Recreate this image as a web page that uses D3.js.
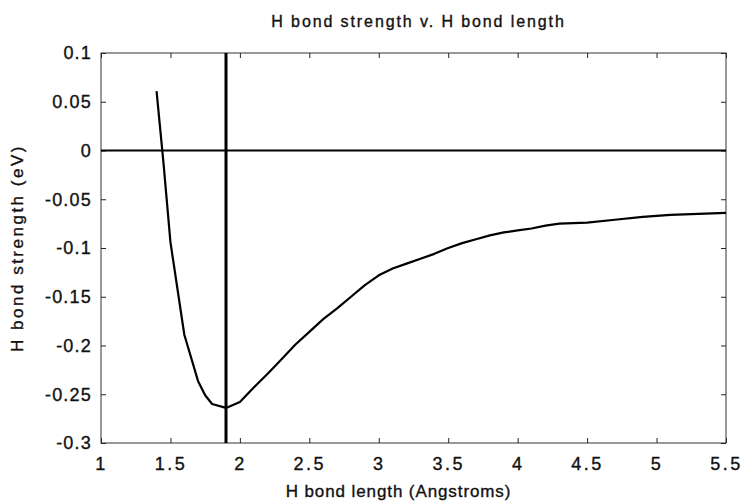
<!DOCTYPE html>
<html>
<head>
<meta charset="utf-8">
<script src="https://cdn.jsdelivr.net/npm/d3@7"></script>
<style>
  html, body { margin: 0; padding: 0; background: #fff; }
  svg { display: block; }
  text { font-family: "Liberation Sans", Arial, Helvetica, sans-serif; fill: #111; stroke: #111; stroke-width: 0.35px; }
</style>
</head>
<body>
<svg id="chart" width="743" height="503"></svg>
<script>
// H-bond length (Angstroms) and computed H-bond strength (eV)
const bondLength = [1.4, 1.45, 1.5, 1.6, 1.7, 1.75, 1.8, 1.9, 2.0, 2.1, 2.2, 2.3, 2.4, 2.5,
  2.6, 2.7, 2.8, 2.9, 3.0, 3.1, 3.2, 3.3, 3.4, 3.5, 3.6, 3.7, 3.8, 3.9, 4.0, 4.1, 4.2,
  4.3, 4.5, 4.7, 4.9, 5.1, 5.3, 5.5];
const bondStrength = [0.061, -0.013, -0.094, -0.189, -0.237, -0.251, -0.260, -0.264, -0.258,
  -0.243, -0.229, -0.214, -0.199, -0.186, -0.173, -0.162, -0.150, -0.138, -0.128, -0.121,
  -0.116, -0.111, -0.106, -0.100, -0.095, -0.091, -0.087, -0.084, -0.082, -0.080, -0.077,
  -0.075, -0.074, -0.071, -0.068, -0.066, -0.065, -0.064];

// reference lines: zero energy and equilibrium bond length
const zeroLevel = [0];
const equilibriumLength = [1.9];

const xTicks = [1, 1.5, 2, 2.5, 3, 3.5, 4, 4.5, 5, 5.5];
const yTicks = [0.1, 0.05, 0, -0.05, -0.1, -0.15, -0.2, -0.25, -0.3];
const xDomain = [1, 5.5];
const yDomain = [-0.3, 0.1];

const titleText = "H bond strength v. H bond length";
const xLabelText = "H bond length (Angstroms)";
const yLabelText = "H bond strength (eV)";

const margin = { left: 101, right: 17, top: 53, bottom: 60 };
const W = 743, H = 503;
const svg = d3.select("#chart");

const x = d3.scaleLinear().domain(xDomain).range([margin.left, W - margin.right]);
const y = d3.scaleLinear().domain(yDomain).range([H - margin.bottom, margin.top]);

const fmt = d => String(d);
const tickLen = 5;

// inward ticks on all four sides
const axes = [
  { ax: d3.axisBottom(x).tickValues(xTicks).tickSize(-tickLen).tickFormat(fmt), t: `translate(0,${y.range()[0]})` },
  { ax: d3.axisTop(x).tickValues(xTicks).tickSize(-tickLen).tickFormat(""), t: `translate(0,${y.range()[1]})` },
  { ax: d3.axisLeft(y).tickValues(yTicks).tickSize(-tickLen).tickFormat(fmt), t: `translate(${x.range()[0]},0)` },
  { ax: d3.axisRight(y).tickValues(yTicks).tickSize(-tickLen).tickFormat(""), t: `translate(${x.range()[1]},0)` }
];
axes.forEach((a, i) => {
  const g = svg.append("g").attr("transform", a.t).call(a.ax);
  g.select(".domain").remove();
  g.selectAll(".tick line").attr("stroke", "#222").attr("stroke-width", 1);
  g.selectAll(".tick text").attr("font-size", 18).attr("fill", "#111")
    .attr("font-family", "'Liberation Sans', Arial, sans-serif");
  if (i === 0) g.selectAll(".tick text").attr("y", 14).attr("dy", "0.71em")
    .attr("letter-spacing", "2.5px");
  if (i === 2) g.selectAll(".tick text").attr("x", -9).attr("letter-spacing", "1.2px");
});

// plot frame
svg.append("rect")
  .attr("x", x.range()[0]).attr("y", y.range()[1])
  .attr("width", x.range()[1] - x.range()[0])
  .attr("height", y.range()[0] - y.range()[1])
  .attr("fill", "none").attr("stroke", "#333").attr("stroke-width", 1);

// zero line
svg.selectAll(".zero").data(zeroLevel).enter().append("line")
  .attr("x1", x.range()[0]).attr("x2", x.range()[1])
  .attr("y1", d => y(d)).attr("y2", d => y(d))
  .attr("stroke", "#000").attr("stroke-width", 2);

// equilibrium length marker
svg.selectAll(".eq").data(equilibriumLength).enter().append("line")
  .attr("x1", d => x(d)).attr("x2", d => x(d))
  .attr("y1", y.range()[1]).attr("y2", y.range()[0])
  .attr("stroke", "#000").attr("stroke-width", 3);

// strength curve
const pts = bondLength.map((v, i) => [v, bondStrength[i]]);
svg.append("path")
  .datum(pts)
  .attr("fill", "none").attr("stroke", "#000").attr("stroke-width", 2.2)
  .attr("stroke-linejoin", "round")
  .attr("d", d3.line().x(d => x(d[0])).y(d => y(d[1])));

// labels
const cx = (x.range()[0] + x.range()[1]) / 2;
const cy = (y.range()[0] + y.range()[1]) / 2;
svg.append("text").attr("x", cx + 5).attr("y", 27).attr("text-anchor", "middle")
  .attr("font-size", 16).attr("letter-spacing", "1.9px").text(titleText);
svg.append("text").attr("x", cx - 15).attr("y", 497).attr("text-anchor", "middle")
  .attr("font-size", 17).attr("letter-spacing", "0.9px").text(xLabelText);
svg.append("text").attr("transform", `translate(23,${cy}) rotate(-90)`)
  .attr("text-anchor", "middle").attr("font-size", 17).attr("letter-spacing", "2.5px")
  .text(yLabelText);
</script>
</body>
</html>
